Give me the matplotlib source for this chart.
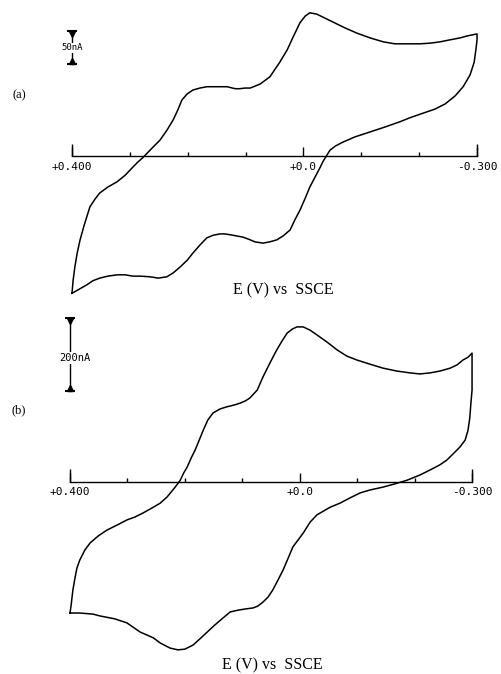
import matplotlib
matplotlib.use("Agg")
import matplotlib.pyplot as plt
from matplotlib.transforms import offset_copy

# ---------------- data ----------------
# Panel (a): potential (V vs SSCE) and current (nA), closed CV loop
potential_a = [0.400, 0.398, 0.395, 0.391, 0.386, 0.379, 0.369, 0.360, 0.352, 0.338,
               0.322, 0.308, 0.295, 0.286, 0.277, 0.265, 0.248, 0.236, 0.225, 0.217,
               0.210, 0.201, 0.191, 0.179, 0.167, 0.149, 0.132, 0.118, 0.110, 0.101,
               0.092, 0.075, 0.058, 0.041, 0.028, 0.018, 0.006, -0.003, -0.011, -0.023,
               -0.037, -0.051, -0.072, -0.093, -0.115, -0.138, -0.158, -0.179, -0.201, -0.219,
               -0.236, -0.253, -0.271, -0.283, -0.300,
               -0.300, -0.298, -0.295, -0.288, -0.276, -0.262, -0.245, -0.227, -0.207, -0.184,
               -0.167, -0.141, -0.110, -0.089, -0.068, -0.055, -0.046, -0.041, -0.034, -0.029,
               -0.020, -0.011, -0.003, 0.006, 0.015, 0.023, 0.035, 0.046, 0.058, 0.070,
               0.084, 0.092, 0.104, 0.122, 0.136, 0.144, 0.156, 0.167, 0.179, 0.191,
               0.201, 0.213, 0.225, 0.236, 0.251, 0.265, 0.282, 0.295, 0.308, 0.322,
               0.338, 0.352, 0.364, 0.374, 0.386, 0.400]
current_a = [-208, -188, -168, -147, -127, -105, -77, -65, -56, -47,
             -39, -29, -17, -9, -2, 9, 24, 39, 55, 70,
             85, 94, 100, 103, 105, 105, 105, 102, 102, 103,
             103, 109, 120, 142, 161, 180, 202, 212, 217, 215,
             209, 203, 194, 186, 179, 173, 170, 170, 170, 171,
             173, 176, 179, 182, 185,
             176, 161, 142, 123, 105, 91, 79, 71, 65, 58,
             52, 44, 35, 29, 21, 15, 9, 2, -8, -17,
             -32, -47, -64, -82, -97, -112, -121, -127, -130, -132,
             -130, -127, -123, -120, -118, -118, -120, -124, -135, -147,
             -158, -168, -177, -183, -185, -183, -182, -182, -180, -180,
             -182, -185, -189, -195, -201, -208]

# Panel (b)
potential_b = [0.400, 0.398, 0.397, 0.395, 0.391, 0.388, 0.383, 0.374, 0.365, 0.351,
               0.336, 0.318, 0.301, 0.287, 0.273, 0.257, 0.243, 0.231, 0.221, 0.214,
               0.208, 0.202, 0.196, 0.189, 0.182, 0.175, 0.168, 0.160, 0.151, 0.139,
               0.127, 0.114, 0.104, 0.095, 0.087, 0.074, 0.064, 0.052, 0.040, 0.031,
               0.022, 0.013, 0.005, -0.006, -0.018, -0.030, -0.047, -0.065, -0.082, -0.100,
               -0.122, -0.145, -0.169, -0.192, -0.209, -0.227, -0.244, -0.262, -0.274, -0.284,
               -0.293, -0.300,
               -0.300, -0.300, -0.300, -0.300, -0.298, -0.296, -0.293, -0.288, -0.279, -0.267,
               -0.256, -0.244, -0.227, -0.209, -0.187, -0.166, -0.145, -0.122, -0.105, -0.087,
               -0.070, -0.053, -0.030, -0.018, -0.006, 0.003, 0.012, 0.020, 0.029, 0.038,
               0.047, 0.055, 0.064, 0.073, 0.081, 0.095, 0.107, 0.121, 0.134, 0.148,
               0.161, 0.174, 0.186, 0.200, 0.212, 0.226, 0.243, 0.255, 0.278, 0.301,
               0.322, 0.348, 0.360, 0.383, 0.400]
current_b = [-359, -337, -323, -296, -260, -236, -214, -186, -167, -148,
             -132, -118, -104, -96, -85, -71, -58, -41, -22, -8,
             5, 25, 41, 66, 88, 115, 142, 170, 189, 200,
             206, 211, 216, 222, 230, 252, 288, 326, 362, 386,
             408, 419, 425, 425, 416, 403, 384, 362, 345, 334,
             323, 312, 304, 299, 296, 299, 304, 312, 321, 334,
             342, 353,
             342, 321, 288, 252, 216, 175, 142, 115, 96, 77,
             60, 47, 33, 19, 5, -5, -14, -22, -30, -44,
             -58, -69, -90, -110, -140, -159, -178, -208, -241, -269,
             -296, -315, -329, -340, -345, -348, -351, -356, -373, -392,
             -411, -430, -447, -458, -460, -455, -441, -427, -411, -386,
             -375, -367, -362, -359, -359]

tick_values = [0.4, 0.3, 0.2, 0.1, 0.0, -0.1, -0.2, -0.3]
labeled_ticks = [0.4, 0.0, -0.3]
tick_labels = ["+0.400", "+0.0", "-0.300"]
panel_labels = ["(a)", "(b)"]
scale_values = [50, 200]
scale_texts = ["50nA", "200nA"]
axis_title = "E (V) vs  SSCE"

# ---------------- figure ----------------
W, H = 501, 674
fig = plt.figure(figsize=(W / 100, H / 100), dpi=100)

ax_a = fig.add_axes([0, 1 - 310 / H, 1, 310 / H])
ax_b = fig.add_axes([0, 0, 1, 364 / H])

panels = [
    dict(ax=ax_a, E=potential_a, I=current_a, xlim=(0.5244, -0.3414), ylim=(-233.3, 236.4),
         bar_bottom=139, bar_fs=6.5, text_y=164, text_dx=0, end_px=12, pad=4.5,
         label_xy=(19, 95), title_xy=(283, 294)),
    dict(ax=ax_b, E=potential_b, I=current_b, xlim=(0.5219, -0.3504), ylim=(-526.1, 471.3),
         bar_bottom=249, bar_fs=7.5, text_y=340, text_dx=5, end_px=13, pad=3.5,
         label_xy=(19, 410), title_xy=(272, 669)),
]

for k, p in enumerate(panels):
    ax = p["ax"]
    ax.plot(p["E"], p["I"], color="black", lw=1.1, solid_joinstyle="round")
    ax.set_xlim(*p["xlim"])
    ax.set_ylim(*p["ylim"])
    ax.patch.set_visible(False)
    for s in ["top", "left", "right"]:
        ax.spines[s].set_visible(False)
    ax.spines["bottom"].set_position(("data", 0))
    ax.spines["bottom"].set_bounds(min(tick_values), max(tick_values))
    ax.spines["bottom"].set_linewidth(1.0)
    ax.yaxis.set_visible(False)
    ax.set_xticks(labeled_ticks, labels=tick_labels)
    ax.set_xticks([t for t in tick_values if t not in labeled_ticks], minor=True)
    ax.tick_params(axis="x", which="major", direction="in", length=6.5, width=1.0,
                   pad=p["pad"], labelsize=8)
    ax.tick_params(axis="x", which="minor", direction="in", length=3, width=1.0)
    for lbl in ax.get_xticklabels():
        lbl.set_fontfamily("DejaVu Sans Mono")

    # longer end ticks of the potential axis
    ax_h_px = ax.get_position().height * H
    per_px = (p["ylim"][1] - p["ylim"][0]) / ax_h_px
    ends = [max(tick_values), min(tick_values)]
    ax.vlines(ends, 0, p["end_px"] * per_px, color="black", lw=1.0)

    # current scale bar
    bx = max(tick_values)
    b0 = p["bar_bottom"]
    b1 = b0 + scale_values[k]
    ax.plot([bx, bx], [b0, b1], color="black", lw=1.0)
    ax.plot([bx], [b1], marker="_", ms=7, mew=1.5, color="black")
    ax.plot([bx], [b0], marker="_", ms=7, mew=1.5, color="black")
    tr_dn = offset_copy(ax.transData, fig=fig, x=0, y=-3, units="dots")
    tr_up = offset_copy(ax.transData, fig=fig, x=0, y=3, units="dots")
    ax.plot([bx], [b1], marker="v", ms=5, color="black", transform=tr_dn)
    ax.plot([bx], [b0], marker="^", ms=5, color="black", transform=tr_up)
    tr_txt = offset_copy(ax.transData, fig=fig, x=p["text_dx"], y=0, units="dots")
    ax.text(bx, p["text_y"], scale_texts[k], transform=tr_txt, ha="center", va="center",
            fontsize=p["bar_fs"], family="DejaVu Sans Mono",
            bbox=dict(facecolor="white", edgecolor="none", pad=0.5))

    lx, ly = p["label_xy"]
    fig.text(lx / W, 1 - ly / H, panel_labels[k], ha="center", va="center",
             fontsize=9, family="Liberation Serif")
    tx, ty = p["title_xy"]
    fig.text(tx / W, 1 - ty / H, axis_title, ha="center", va="baseline",
             fontsize=11.5, family="Liberation Serif")

fig.savefig("out.png", dpi=100, facecolor="white")
